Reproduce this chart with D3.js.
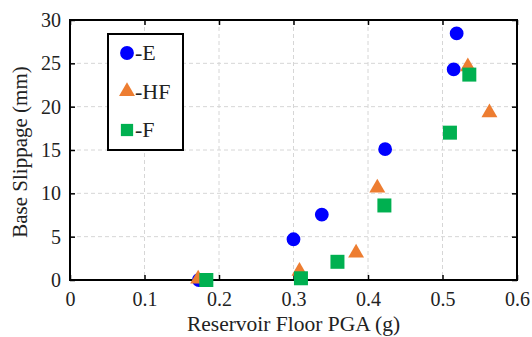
<!DOCTYPE html>
<html>
<head>
<meta charset="utf-8">
<script src="https://cdn.jsdelivr.net/npm/d3@7"></script>
<style>
  body { margin: 0; background: #fff; }
</style>
</head>
<body>
<svg id="root"></svg>
<script>
// series values: [PGA (g), slippage (mm)]
const seriesE = [[0.173, 0], [0.300, 4.7], [0.338, 7.55], [0.423, 15.1], [0.515, 24.3], [0.519, 28.45]];
const seriesHF = [[0.172, 0], [0.308, 0.9], [0.384, 3.0], [0.4125, 10.5], [0.534, 24.5], [0.563, 19.2]];
const seriesF = [[0.183, 0], [0.310, 0.2], [0.359, 2.1], [0.422, 8.6], [0.536, 23.7], [0.510, 17.0]];
const seriesNames = ['-E', '-HF', '-F'];
const xTicks = [0, 0.1, 0.2, 0.3, 0.4, 0.5, 0.6];
const yTicks = [0, 5, 10, 15, 20, 25, 30];

const FONT = 'Liberation Serif, Times New Roman, serif';
const width = 532, height = 337;
const margin = { top: 20, right: 15, bottom: 57, left: 70 };
const w = width - margin.left - margin.right;
const h = height - margin.top - margin.bottom;

const svg = d3.select('#root').attr('width', width).attr('height', height);
const chart = svg.append('g').attr('transform', `translate(${margin.left}, ${margin.top})`);

const x = d3.scaleLinear().domain([0, 0.6]).range([0, w]);
const y = d3.scaleLinear().domain([0, 30]).range([h, 0]);

// dashed grid
chart.append('g').selectAll('line').data(xTicks.slice(1, -1)).enter().append('line')
  .attr('x1', d => x(d)).attr('x2', d => x(d)).attr('y1', 0).attr('y2', h)
  .attr('stroke', '#d6d6d6').attr('stroke-dasharray', '4,3');
chart.append('g').selectAll('line').data(yTicks.slice(1, -1)).enter().append('line')
  .attr('y1', d => y(d)).attr('y2', d => y(d)).attr('x1', 0).attr('x2', w)
  .attr('stroke', '#d6d6d6').attr('stroke-dasharray', '4,3');

// axes (inward ticks)
const axX = chart.append('g').attr('transform', `translate(0, ${h})`)
  .call(d3.axisBottom(x).tickValues(xTicks).tickSize(-5).tickPadding(12).tickFormat(d3.format('')));
const axXt = chart.append('g')
  .call(d3.axisTop(x).tickValues(xTicks).tickSize(-5).tickFormat(''));
const axY = chart.append('g')
  .call(d3.axisLeft(y).tickValues(yTicks).tickSize(-5).tickPadding(9));
const axYr = chart.append('g').attr('transform', `translate(${w}, 0)`)
  .call(d3.axisRight(y).tickValues(yTicks).tickSize(-5).tickFormat(''));
[axX, axXt, axY, axYr].forEach(a => {
  a.select('.domain').remove();
  a.attr('font-family', FONT).attr('font-size', 20);
  a.selectAll('line').attr('stroke', '#000').attr('stroke-width', 1.5);
  a.selectAll('text').attr('fill', '#222');
});

chart.append('rect').attr('width', w).attr('height', h)
  .attr('fill', 'none').attr('stroke', '#000').attr('stroke-width', 2);

// markers
const colE = '#0000ff', colHF = '#ed7d31', colF = '#00b050';
const sym = (type, size) => d3.symbol().type(type).size(size)();

chart.append('g').selectAll('path').data(seriesE).enter().append('path')
  .attr('d', sym(d3.symbolCircle, 150))
  .attr('transform', d => `translate(${x(d[0])}, ${y(d[1])})`).attr('fill', colE);
chart.append('g').selectAll('path').data(seriesHF).enter().append('path')
  .attr('d', sym(d3.symbolTriangle, 110))
  .attr('transform', d => `translate(${x(d[0])}, ${y(d[1]) - 1})`).attr('fill', colHF);
chart.append('g').selectAll('path').data(seriesF).enter().append('path')
  .attr('d', sym(d3.symbolSquare, 196))
  .attr('transform', d => `translate(${x(d[0])}, ${y(d[1])})`).attr('fill', colF);

// legend
const lg = chart.append('g').attr('transform', 'translate(38, 14)');
lg.append('rect').attr('width', 75).attr('height', 116)
  .attr('fill', '#fff').attr('stroke', '#000').attr('stroke-width', 2);
const legendItems = [
  { name: seriesNames[0], type: d3.symbolCircle, size: 150, col: colE },
  { name: seriesNames[1], type: d3.symbolTriangle, size: 110, col: colHF },
  { name: seriesNames[2], type: d3.symbolSquare, size: 150, col: colF }
];
legendItems.forEach((it, i) => {
  const cy = 19 + i * 38.5;
  lg.append('path').attr('d', sym(it.type, it.size))
    .attr('transform', `translate(19, ${cy})`).attr('fill', it.col);
  lg.append('text').attr('x', 27).attr('y', cy + 7)
    .attr('font-size', 22).attr('font-family', FONT).attr('fill', '#222').text(it.name);
});

// axis titles
svg.append('text').attr('x', margin.left + w / 2).attr('y', 331)
  .attr('text-anchor', 'middle').attr('font-size', 21.5).attr('font-family', FONT)
  .attr('fill', '#222').text('Reservoir Floor PGA (g)');
svg.append('text').attr('transform', `translate(27, ${margin.top + h / 2 + 2}) rotate(-90)`)
  .attr('text-anchor', 'middle').attr('font-size', 21).attr('font-family', FONT)
  .attr('fill', '#222').text('Base Slippage (mm)');
</script>
</body>
</html>
